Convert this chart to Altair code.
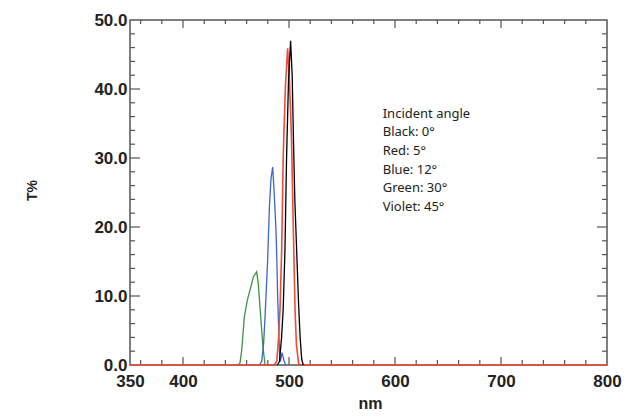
import altair as alt
import pandas as pd

# ---- data ----
black_nm = [489, 491, 493, 494.5, 496.2, 497.7, 499.5, 501.5, 503, 504.3, 505.5, 507.2, 509, 510.5, 512, 513.5]
black_T  = [0, 0.5, 4, 8, 16.7, 30, 41, 47, 42, 32, 24, 16.7, 9, 4, 0.8, 0]

red_nm = [350, 486, 488.4, 490, 491.5, 493.1, 494.5, 496.5, 498.7, 500.5, 502.4, 503.5, 504.5, 505.7, 507, 509, 510, 800]
red_T  = [0, 0, 0.5, 3.5, 8, 16.7, 30, 40, 45.9, 41, 32.6, 24, 16.7, 8, 3, 0.3, 0, 0]

blue_nm = [472, 474.2, 476, 477.4, 479.8, 481.5, 483, 484.6, 486, 487.6, 488.3, 489.3, 489.9, 491, 491.8, 493.5, 495.5, 497]
blue_T  = [0, 0.5, 3, 7, 15, 22.9, 27, 28.7, 25, 20, 16.7, 10, 7, 2, 0.5, 1.8, 0.5, 0]

green_nm = [452, 453.8, 455.4, 457.9, 460.7, 464.8, 466.5, 469.5, 471, 473.3, 475.5, 477.4]
green_T  = [0, 0.3, 2.2, 7, 9.4, 11.8, 12.8, 13.5, 11.8, 7, 2.5, 0]

x_labels = [350, 400, 500, 600, 700, 800]
y_labels = [0, 10, 20, 30, 40, 50]
x_major_ticks = [400, 500, 600, 700]
x_minor_ticks = [360, 380, 420, 440, 460, 480, 520, 540, 560, 580, 620, 640, 660, 680, 720, 740, 760, 780]
y_major_ticks = [10, 20, 30, 40]
y_minor_ticks = [2, 4, 6, 8, 12, 14, 16, 18, 22, 24, 26, 28, 32, 34, 36, 38, 42, 44, 46, 48]

note_lines = ["Incident angle", "Black: 0°", "Red: 5°", "Blue: 12°", "Green: 30°", "Violet: 45°"]
note_x = 588.4
note_y = 36.4

W, H = 477, 345
X_DOMAIN = [350, 800]
Y_DOMAIN = [0, 50]
TICK_COLOR = "#555555"

xs = alt.Scale(domain=X_DOMAIN, nice=False, zero=False)
ys = alt.Scale(domain=Y_DOMAIN, nice=False, zero=False)

X_AXIS = alt.Axis(values=x_labels, title="nm", titleX=240, titleY=43, titleBaseline="alphabetic",
                  labelPadding=8, titleFontSize=16)
Y_AXIS = alt.Axis(values=y_labels, format=".1f", title="T%", titleX=-98, titleY=170,
                  titleBaseline="middle", titleAngle=270, labelPadding=3, titleFontSize=14)


def series_layer(nm, t, color, width=1.3):
    df = pd.DataFrame({"nm": nm, "T": t})
    return alt.Chart(df).mark_line(color=color, strokeWidth=width).encode(
        x=alt.X("nm:Q", scale=xs, axis=X_AXIS),
        y=alt.Y("T:Q", scale=ys, axis=Y_AXIS),
    )


def xticks(vals, length, top):
    df = pd.DataFrame({"nm": vals})
    y0 = 0 if top else H
    y1 = length if top else H - length
    return alt.Chart(df).mark_rule(color=TICK_COLOR, strokeWidth=1.2).encode(
        x=alt.X("nm:Q", scale=xs, axis=X_AXIS), y=alt.value(y0), y2=alt.value(y1))


def yticks(vals, length, right):
    df = pd.DataFrame({"T": vals})
    x0 = W if right else 0
    x1 = W - length if right else length
    return alt.Chart(df).mark_rule(color=TICK_COLOR, strokeWidth=1.2).encode(
        y=alt.Y("T:Q", scale=ys, axis=Y_AXIS), x=alt.value(x0), x2=alt.value(x1))


ticks = [
    xticks(x_major_ticks, 8, False), xticks(x_minor_ticks, 5, False),
    xticks(x_major_ticks, 8, True), xticks(x_minor_ticks, 4, True),
    yticks(y_major_ticks, 10, False), yticks(y_minor_ticks, 5, False),
    yticks(y_major_ticks, 10, True), yticks(y_minor_ticks, 5, True),
]

note_df = pd.DataFrame({"nm": [note_x], "T": [note_y], "text": ["\n".join(note_lines)]})
note = alt.Chart(note_df).mark_text(
    align="left", baseline="middle", lineBreak="\n", lineHeight=18.6,
    font="Noto Sans", fontSize=13, color="#222222"
).encode(
    x=alt.X("nm:Q", scale=xs, axis=X_AXIS),
    y=alt.Y("T:Q", scale=ys, axis=Y_AXIS),
    text="text:N",
)

chart = alt.layer(
    *ticks,
    series_layer(green_nm, green_T, "#3d9440"),
    series_layer(blue_nm, blue_T, "#3a66cc"),
    series_layer(red_nm, red_T, "#f04a3a", 1.6),
    series_layer(black_nm, black_T, "#000000"),
    note,
).properties(
    width=W, height=H,
    autosize=alt.AutoSizeParams(type="none"),
    padding={"left": 122, "top": 12, "right": 15, "bottom": 45},
    background="white",
).configure_view(
    stroke="#555555", strokeWidth=1.5
).configure_axis(
    ticks=False, domain=False, grid=False, labelFlush=False,
    labelFont="Liberation Sans", labelFontWeight="bold", labelFontSize=17, labelColor="#222222",
    titleFont="Liberation Sans", titleFontWeight="bold", titleColor="#222222",
)

chart.save("out.html", embed_options={"renderer": "svg", "actions": False})
